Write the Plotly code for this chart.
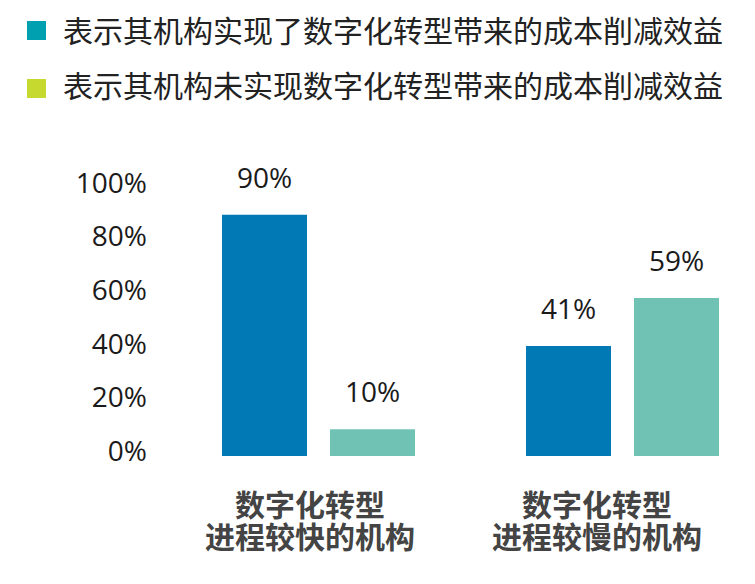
import plotly.graph_objects as go

# ---- data ----
categories = ["数字化转型\n进程较快的机构", "数字化转型\n进程较慢的机构"]
series_names = ["表示其机构实现了数字化转型带来的成本削减效益",
                "表示其机构未实现数字化转型带来的成本削减效益"]
blue_values = [90, 41]   # realized
teal_values = [10, 59]   # not realized
tick_values = [0, 20, 40, 60, 80, 100]
tick_labels = ["0%", "20%", "40%", "60%", "80%", "100%"]

# ---- styles ----
BAR_BLUE = "#0079B5"
BAR_TEAL = "#70C2B4"
LEG_TEAL = "#00A0B0"
LEG_LIME = "#C6D92E"
NUM_FONT = "Open Sans, Noto Sans CJK SC, sans-serif"
CJK_FONT = "Noto Sans CJK SC, sans-serif"

W, H = 755, 584
L, R, T, B = 152, 15, 160, 128   # plot area: x 152..740, y 160..456
PW, PH = W - L - R, H - T - B
PX_PER_CAT = 304.0
x_lo = -(318 - L) / PX_PER_CAT
x_hi = x_lo + PW / PX_PER_CAT
y_top = 296 / 2.68

bar_w = 85 / PX_PER_CAT
off_blue = -96 / PX_PER_CAT
off_teal = 12 / PX_PER_CAT

xs = list(range(len(categories)))

fig = go.Figure()
fig.add_trace(go.Bar(x=xs, y=blue_values, width=bar_w, offset=off_blue,
                     marker=dict(color=BAR_BLUE, line=dict(width=0)),
                     name=series_names[0], showlegend=False))
fig.add_trace(go.Bar(x=xs, y=teal_values, width=bar_w, offset=off_teal,
                     marker=dict(color=BAR_TEAL, line=dict(width=0)),
                     name=series_names[1], showlegend=False))

annotations = []
# value labels
for vals, off in ((blue_values, off_blue), (teal_values, off_teal)):
    for i, v in enumerate(vals):
        annotations.append(dict(x=i + off + bar_w / 2, y=v, xref="x", yref="y",
                                text=f"{v}%", showarrow=False, yanchor="bottom",
                                yshift=17, font=dict(family=NUM_FONT, size=28, color="#1a1a1a")))

def py_to_paper(py):
    return (H - B - py) / PH

def px_to_paper(px):
    return (px - L) / PW

# category labels (two lines each, tight line spacing as in the reference)
label_xshift = [-8, -25]
for i, cat in enumerate(categories):
    for j, line in enumerate(cat.split("\n")):
        annotations.append(dict(x=i, y=py_to_paper(503 + 32 * j), xref="x", yref="paper",
                                xshift=label_xshift[i], text=f"<b>{line}</b>", showarrow=False,
                                yanchor="middle", xanchor="center",
                                font=dict(family=CJK_FONT, size=30, color="#444444")))

# legend (manual)
shapes = []
leg_colors = [LEG_TEAL, LEG_LIME]
sq_rows = [30.5, 88.5]
txt_rows = [29, 84]
for name, col, sy, ty in zip(series_names, leg_colors, sq_rows, txt_rows):
    shapes.append(dict(type="rect", xref="paper", yref="paper",
                       x0=px_to_paper(27), x1=px_to_paper(46),
                       y0=py_to_paper(sy + 9.5), y1=py_to_paper(sy - 9.5),
                       fillcolor=col, line=dict(width=0)))
    annotations.append(dict(x=px_to_paper(61), y=py_to_paper(ty), xref="paper", yref="paper",
                            text=name, showarrow=False, xanchor="left", yanchor="middle",
                            font=dict(family=CJK_FONT, size=30, color="#222222")))

fig.update_layout(
    width=W, height=H,
    margin=dict(l=L, r=R, t=T, b=B, pad=0),
    paper_bgcolor="white", plot_bgcolor="white",
    showlegend=False,
    barmode="overlay",
    xaxis=dict(range=[x_lo, x_hi], showticklabels=False, showgrid=False,
               zeroline=False, showline=False, ticks=""),
    yaxis=dict(range=[0, y_top], tickvals=tick_values, ticktext=tick_labels,
               showgrid=False, zeroline=False, showline=False, ticks="",
               tickfont=dict(family=NUM_FONT, size=28, color="#1a1a1a"),
               ticklabelshift=-5, ticklabelstandoff=4),
    annotations=annotations,
    shapes=shapes,
)

fig.write_html("out.html")
